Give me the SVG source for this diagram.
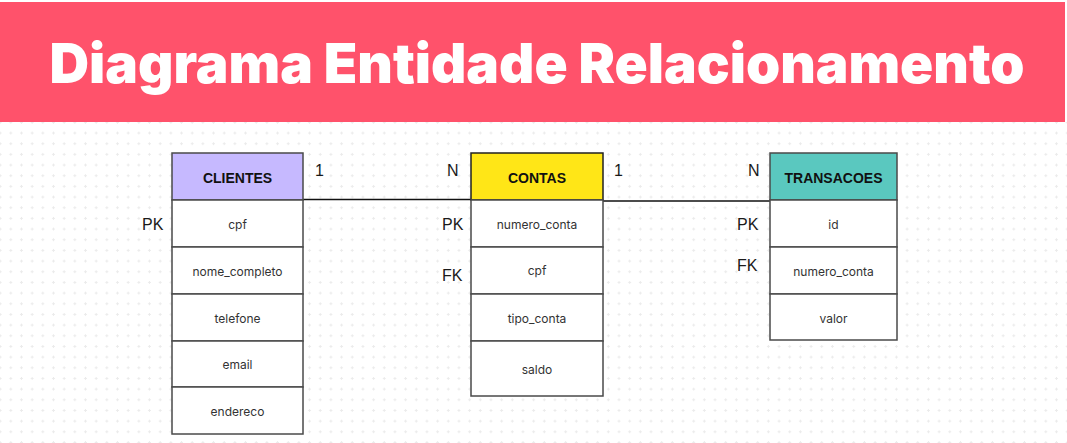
<svg xmlns="http://www.w3.org/2000/svg" width="1067" height="443" viewBox="0 0 1067 443">
<defs>
<pattern id="grid" x="5.5" y="127.7" width="10.67" height="10.67" patternUnits="userSpaceOnUse">
<path d="M5.3 3.8v3M3.8 5.3h3" stroke="#ebebeb" stroke-width="1"/>
</pattern>
</defs>
<style>
.box{fill:#fff;stroke:#4a4a4a;stroke-width:1.5}
.hd{font-family:"Liberation Sans",Arial,sans-serif;font-weight:bold;font-size:14px;fill:#111;text-anchor:middle}
.at{font-family:Inter,"Liberation Sans",sans-serif;font-size:12px;fill:#333;text-anchor:middle}
.lb{font-family:"Liberation Sans",Arial,sans-serif;font-size:16px;fill:#1a1a1a}
.ln{stroke:#111;stroke-width:1.6;fill:none}
</style>
<rect x="0" y="0" width="1067" height="443" fill="#fff"/>
<rect x="0" y="122" width="1067" height="321" fill="url(#grid)"/>
<rect x="0" y="2" width="1065" height="120" fill="#ff526b"/>
<text x="537" y="83" font-family="Inter,'Liberation Sans',sans-serif" font-weight="900" font-size="55" fill="#fff" text-anchor="middle" textLength="975" lengthAdjust="spacingAndGlyphs">Diagrama Entidade Relacionamento</text>

<g id="connectors">
<line class="ln" x1="303" y1="199.5" x2="471" y2="199.5"/>
<line class="ln" x1="603" y1="201" x2="770" y2="201"/>
<text class="lb" x="315" y="176">1</text>
<text class="lb" x="447" y="176">N</text>
<text class="lb" x="614" y="176">1</text>
<text class="lb" x="748" y="176">N</text>
</g>

<g id="clientes">
<rect x="172" y="153" width="131" height="47" fill="#c6b9ff" stroke="#4a4a4a" stroke-width="1.5"/>
<text class="hd" x="237.5" y="183">CLIENTES</text>
<rect class="box" x="172" y="200" width="131" height="47"/>
<rect class="box" x="172" y="247" width="131" height="47"/>
<rect class="box" x="172" y="294" width="131" height="47"/>
<rect class="box" x="172" y="341" width="131" height="46"/>
<rect class="box" x="172" y="387" width="131" height="47"/>
<text class="at" x="237.5" y="229">cpf</text>
<text class="at" x="237.5" y="276">nome_completo</text>
<text class="at" x="237.5" y="323">telefone</text>
<text class="at" x="237.5" y="369">email</text>
<text class="at" x="237.5" y="416">endereco</text>
<text class="lb" x="142" y="230" fill="#3a1414">PK</text>
</g>

<g id="contas">
<rect x="471" y="153" width="132" height="47" fill="#ffe617" stroke="#222" stroke-width="1.5"/>
<text class="hd" x="537" y="183">CONTAS</text>
<rect class="box" x="471" y="200" width="132" height="47"/>
<rect class="box" x="471" y="247" width="132" height="47"/>
<rect class="box" x="471" y="294" width="132" height="47"/>
<rect class="box" x="471" y="341" width="132" height="55"/>
<text class="at" x="537" y="229">numero_conta</text>
<text class="at" x="537" y="275">cpf</text>
<text class="at" x="537" y="323">tipo_conta</text>
<text class="at" x="537" y="374">saldo</text>
<text class="lb" x="442" y="230">PK</text>
<text class="lb" x="442" y="281">FK</text>
</g>

<g id="transacoes">
<rect x="770" y="153" width="127" height="47" fill="#5ac8bf" stroke="#4a4a4a" stroke-width="1.5"/>
<text class="hd" x="833.5" y="183">TRANSACOES</text>
<rect class="box" x="770" y="200" width="127" height="47"/>
<rect class="box" x="770" y="247" width="127" height="47"/>
<rect class="box" x="770" y="294" width="127" height="46"/>
<text class="at" x="833.5" y="229">id</text>
<text class="at" x="833.5" y="276">numero_conta</text>
<text class="at" x="833.5" y="323">valor</text>
<text class="lb" x="737" y="230">PK</text>
<text class="lb" x="737" y="271">FK</text>
</g>
</svg>
